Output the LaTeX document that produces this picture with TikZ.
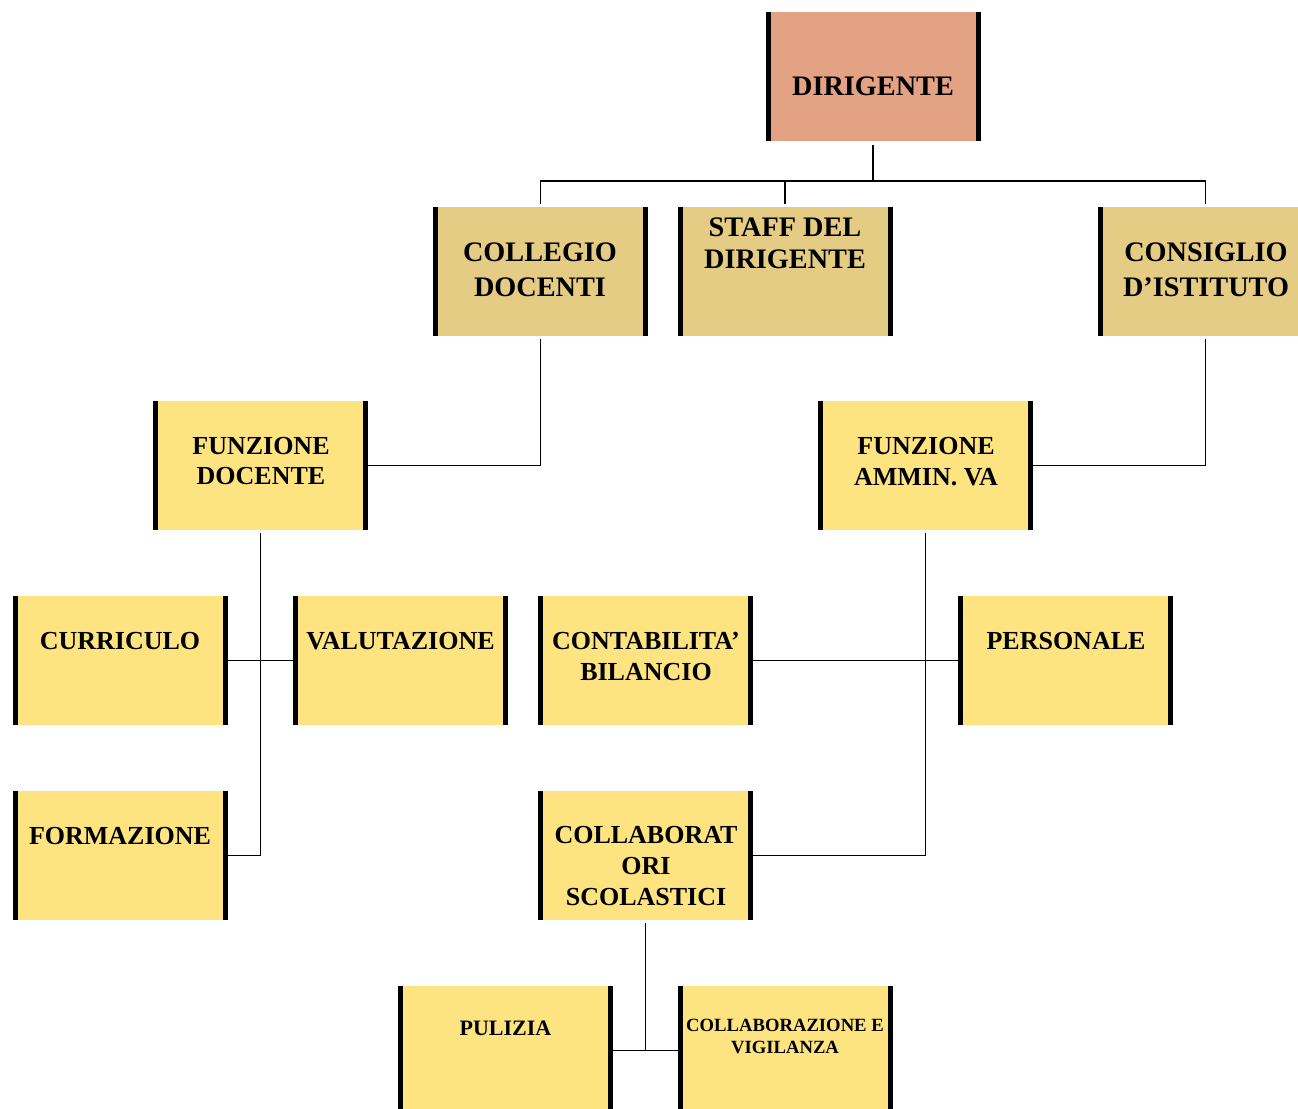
\documentclass[tikz,border=0pt]{standalone}
\usepackage{fontspec}
\setmainfont{Liberation Serif}
\definecolor{salmon}{RGB}{227,162,131}
\definecolor{tan}{RGB}{229,204,132}
\definecolor{yel}{RGB}{254,228,129}
\begin{document}
\begin{tikzpicture}[x=0.75pt,y=-0.75pt,
  box/.style={minimum width=161.25pt,minimum height=96.75pt,inner sep=0pt,outer sep=0pt,fill=#1},
  txt/.style 2 args={inner sep=0pt,align=center,font=\bfseries\fontsize{#1}{#2}\selectfont},
  bar/.style={line width=3.75pt,black},
  conn/.style={line width=1.4pt,black}]
\useasboundingbox (0,0) rectangle (1298,1109);
\clip (0,0) rectangle (1298,1109);
\fill[white] (0,0) rectangle (1298,1109);

% boxes
\node[box=salmon] (dir)   at (873,76.5) {};
\node[box=tan]    (col)   at (540.5,271.5) {};
\node[box=tan]    (staff) at (785,271.5) {};
\node[box=tan]    (cons)  at (1205.5,271.5) {};
\node[box=yel]    (fdoc)  at (260.5,465.5) {};
\node[box=yel]    (famm)  at (925.5,465.5) {};
\node[box=yel]    (curr)  at (120,660.5) {};
\node[box=yel]    (val)   at (400.5,660.5) {};
\node[box=yel]    (cont)  at (645.5,660.5) {};
\node[box=yel]    (pers)  at (1065.5,660.5) {};
\node[box=yel]    (form)  at (120,855.5) {};
\node[box=yel]    (colsc) at (645.5,855.5) {};
\node[box=yel]    (pul)   at (505.5,1050.5) {};
\node[box=yel]    (cev)   at (785,1050.5) {};

\foreach \n in {dir,col,staff,cons,fdoc,famm,curr,val,cont,pers,form,colsc,pul,cev}{
  \draw[bar] ([xshift=1.875pt]\n.north west) -- ([xshift=1.875pt]\n.south west);
  \draw[bar] ([xshift=-1.875pt]\n.north east) -- ([xshift=-1.875pt]\n.south east);
}

% texts
\node[txt={21.2}{26.25}] (tdir)   at (873,86) {DIRIGENTE};
\node[txt={21.2}{26.25}] (tcol)   at (540,269.5) {COLLEGIO\\DOCENTI};
\node[txt={21.2}{24}]    (tstaff) at (785,243) {STAFF DEL\\DIRIGENTE};
\node[txt={21.2}{26.25}] (tcons)  at (1206,269.5) {CONSIGLIO\\D’ISTITUTO};
\node[txt={19.5}{22.5}]  (tfdoc)  at (261,461) {FUNZIONE\\DOCENTE};
\node[txt={19.5}{23.25}] (tfamm)  at (926,461.5) {FUNZIONE\\AMMIN. VA};
\node[txt={19.5}{23.25}] (tcurr)  at (120,641) {CURRICULO};
\node[txt={19.5}{23.25}] (tval)   at (400.5,641) {VALUTAZIONE};
\node[txt={19.5}{23.25}] (tcont)  at (646,656.5) {CONTABILITA’\\BILANCIO};
\node[txt={19.5}{23.25}] (tpers)  at (1066,641) {PERSONALE};
\node[txt={19.5}{23.25}] (tform)  at (120,836) {FORMAZIONE};
\node[txt={19.5}{23.25}] (tcolsc) at (646,866) {COLLABORAT\\ORI\\SCOLASTICI};
\node[txt={16.5}{19.5}]  (tpul)   at (505.5,1028) {PULIZIA};
\node[txt={14}{16.5}]    (tcev)   at (785,1036) {COLLABORAZIONE E\\VIGILANZA};

% connectors
\coordinate (j1) at (873,181);
\draw[conn] ([yshift=-3pt]dir.south) -- (j1);
\draw[conn] ([yshift=2pt]col.north) -- (col.north |- j1) -- (cons.north |- j1) -- ([yshift=2pt]cons.north);
\draw[conn] ([yshift=2pt]staff.north) -- (staff.north |- j1);
\draw[conn] ([yshift=-2pt]col.south) |- (fdoc.east);
\draw[conn] ([yshift=-2pt]cons.south) |- (famm.east);
\draw[conn] ([yshift=-2pt]fdoc.south) |- (form.east);
\draw[conn] (curr.east) -- (val.west);
\draw[conn] ([yshift=-2pt]famm.south) |- (colsc.east);
\draw[conn] (cont.east) -- (pers.west);
\draw[conn] ([yshift=-2pt]colsc.south) -- (colsc.south |- pul.east);
\draw[conn] (pul.east) -- (cev.west);
\end{tikzpicture}
\end{document}
